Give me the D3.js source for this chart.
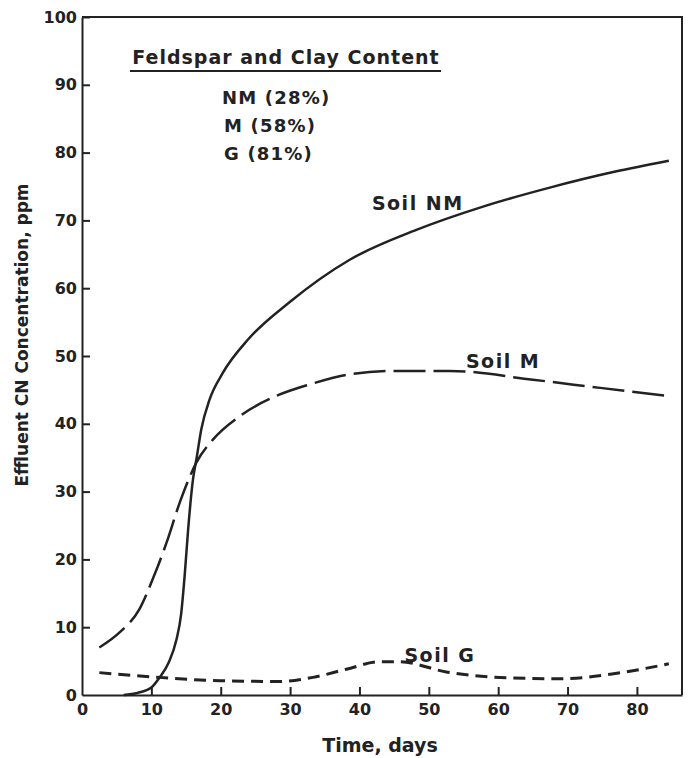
<!DOCTYPE html>
<html>
<head>
<meta charset="utf-8">
<script src="https://cdn.jsdelivr.net/npm/d3@7"></script>
<style>
  body { margin: 0; background: #fff; }
  svg text { font-family: "DejaVu Sans", sans-serif; font-weight: bold; fill: #222; }
</style>
</head>
<body>
<div id="chart"></div>
<script>
(function() {
  var W = 691, H = 758;
  var margin = { top: 17, left: 82, right: 9, bottom: 63 };

  // curves: [day, ppm]
  var soilNM = [[6,0],[8,0.3],[10,1.1],[11.2,2.6],[12.5,4.8],[13.6,8.1],[14.3,12],[14.8,17.6],[15.3,24.4],[16,31.8],[16.5,34.8],[17.2,39.2],[18.4,43.6],[20.3,47.5],[24,52.5],[30,58],[38.6,64.2],[48.2,68.6],[57.7,72],[67.3,74.8],[76.9,77.2],[84.6,78.8]];
  var soilM = [[2.5,7],[5.5,9.3],[8.3,12.7],[10.2,17.1],[12.2,22.5],[14.1,28.4],[16.5,34.3],[18.9,37.7],[22.7,41.1],[28,44.1],[32.8,45.8],[38.6,47.3],[45,47.8],[53,47.8],[65,46.5],[74.7,45.3],[84.6,44.1]];
  var soilG = [[2.5,3.3],[11.2,2.6],[19.9,2.1],[28.5,2.0],[33.3,2.6],[38.1,3.8],[42.9,4.9],[45.8,4.9],[52.5,3.4],[62,2.5],[69.2,2.4],[76.4,3.1],[84.6,4.6]];

  var xTicks = [0,10,20,30,40,50,60,70,80];
  var yTicks = [0,10,20,30,40,50,60,70,80,90,100];
  var legendTitle = "Feldspar and Clay Content";
  var legendRows = ["NM (28%)", "M (58%)", "G (81%)"];

  var svg = d3.select("#chart").append("svg")
    .attr("width", W).attr("height", H);

  var x = d3.scaleLinear().domain([0, 86.5]).range([margin.left, W - margin.right]);
  var y = d3.scaleLinear().domain([0, 100]).range([H - margin.bottom, margin.top]);

  // frame (top and right)
  svg.append("path")
    .attr("d", "M" + x(0) + "," + y(100) + "H" + x(86.5) + "V" + y(0))
    .attr("fill", "none").attr("stroke", "#222").attr("stroke-width", 2);

  var xAxis = d3.axisBottom(x).tickValues(xTicks).tickSizeInner(-8).tickSizeOuter(0).tickPadding(9);
  var gx = svg.append("g")
    .attr("transform", "translate(0," + y(0) + ")")
    .call(xAxis);

  var yAxis = d3.axisLeft(y).tickValues(yTicks).tickSizeInner(-8).tickSizeOuter(0).tickPadding(5);
  var gy = svg.append("g")
    .attr("transform", "translate(" + x(0) + ",0)")
    .call(yAxis);

  gx.selectAll(".domain, line").attr("stroke", "#222").attr("stroke-width", 2);
  gy.selectAll(".domain, line").attr("stroke", "#222").attr("stroke-width", 2);
  gx.selectAll("text").style("font-size", "16px");
  gy.selectAll("text").style("font-size", "16px");
  gx.select(".tick line").attr("display", "none");
  gy.select(".tick line").attr("display", "none");

  // axis titles
  svg.append("text")
    .attr("x", 380).attr("y", 752)
    .attr("text-anchor", "middle")
    .style("font-size", "19px")
    .text("Time, days");

  svg.append("text")
    .attr("transform", "translate(28,335) rotate(-90)")
    .attr("text-anchor", "middle")
    .style("font-size", "17px")
    .text("Effluent CN Concentration, ppm");

  // curves
  var line = d3.line()
    .x(function(d) { return x(d[0]); })
    .y(function(d) { return y(d[1]); })
    .curve(d3.curveMonotoneX);

  svg.append("path").datum(soilNM)
    .attr("d", line).attr("fill", "none")
    .attr("stroke", "#222").attr("stroke-width", 2.5);

  svg.append("path").datum(soilM)
    .attr("d", line).attr("fill", "none")
    .attr("stroke", "#222").attr("stroke-width", 2.5)
    .attr("stroke-dasharray", "32,8");

  svg.append("path").datum(soilG)
    .attr("d", line).attr("fill", "none")
    .attr("stroke", "#222").attr("stroke-width", 3)
    .attr("stroke-dasharray", "12,7");

  // curve labels
  var labels = [["Soil NM", 48.4, 71.5], ["Soil M", 60.7, 48.2], ["Soil G", 51.6, 4.9]];
  svg.selectAll(".clabel").data(labels).enter().append("text")
    .attr("class", "clabel")
    .attr("x", function(d) { return x(d[1]); })
    .attr("y", function(d) { return y(d[2]); })
    .attr("text-anchor", "middle")
    .style("font-size", "19px")
    .style("letter-spacing", "1.5px")
    .text(function(d) { return d[0]; });

  // legend text
  svg.append("text")
    .attr("x", 286).attr("y", 64)
    .attr("text-anchor", "middle")
    .style("font-size", "19px")
    .style("letter-spacing", "1px")
    .text(legendTitle);
  svg.append("line")
    .attr("x1", 130).attr("x2", 441).attr("y1", 71).attr("y2", 71)
    .attr("stroke", "#222").attr("stroke-width", 2);

  svg.selectAll(".lrow").data(legendRows).enter().append("text")
    .attr("class", "lrow")
    .attr("x", function(d, i) { return i === 0 ? 222 : 224; })
    .attr("y", function(d, i) { return 104 + i * 28; })
    .style("font-size", "18px")
    .style("letter-spacing", "1.2px")
    .text(function(d) { return d; });
})();
</script>
</body>
</html>
